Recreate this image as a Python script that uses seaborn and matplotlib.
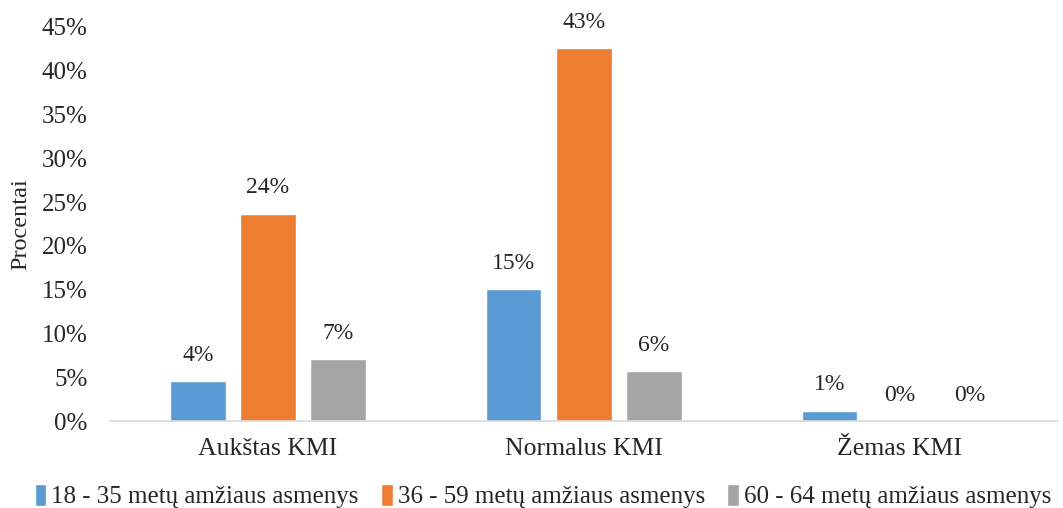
import pandas as pd
import matplotlib
matplotlib.use('Agg')
import matplotlib.pyplot as plt
import seaborn as sns
from matplotlib.ticker import PercentFormatter

# Chart data
categories = ['Aukštas KMI', 'Normalus KMI', 'Žemas KMI']
groups = ['18 - 35 metų amžiaus asmenys', '36 - 59 metų amžiaus asmenys', '60 - 64 metų amžiaus asmenys']
young = [0.046, 0.151, 0.012]
middle = [0.237, 0.426, 0.0]
older = [0.071, 0.057, 0.0]
# labels as printed on the chart
young_lbl = ['4%', '15%', '1%']
middle_lbl = ['24%', '43%', '0%']
older_lbl = ['7%', '6%', '0%']

data = pd.DataFrame({
    'KMI': categories * 3,
    'Grupe': [groups[0]] * 3 + [groups[1]] * 3 + [groups[2]] * 3,
    'Dalis': young + middle + older,
})

sns.set_style('white')
plt.rcParams['font.family'] = ['Liberation Serif', 'DejaVu Serif']

fig, ax = plt.subplots(figsize=(10.63, 5.08), dpi=100)
fig.subplots_adjust(left=0.1035, right=0.995, top=0.947, bottom=0.171)

palette = ['#5B9BD5', '#ED7D31', '#A5A5A5']
sns.barplot(data=data, x='KMI', y='Dalis', hue='Grupe', palette=palette,
            width=0.665, gap=0.21, ax=ax, saturation=1)

for cont, lbls in zip(ax.containers, [young_lbl, middle_lbl, older_lbl]):
    ax.bar_label(cont, labels=lbls, padding=11, fontsize=17)

ax.set_ylim(0, 0.45)
ax.set_yticks([i * 0.05 for i in range(10)])
ax.yaxis.set_major_formatter(PercentFormatter(1.0, decimals=0))
ax.tick_params(axis='both', length=0, labelsize=18)
ax.tick_params(axis='y', pad=16)
ax.tick_params(axis='x', pad=12, labelsize=18.5)
ax.set_xlabel('')
ax.set_ylabel('Procentai', fontsize=17.5, labelpad=8)

for side in ['top', 'right', 'left']:
    ax.spines[side].set_visible(False)
ax.spines['bottom'].set_color('#D9D9D9')
ax.spines['bottom'].set_linewidth(1.2)

ax.legend(loc='center', bbox_to_anchor=(0.457, -0.19), ncol=3, frameon=False,
          fontsize=18, handlelength=0.45, handleheight=1.0, handletextpad=0.2,
          columnspacing=0.9)

fig.savefig('out.png', dpi=100)
